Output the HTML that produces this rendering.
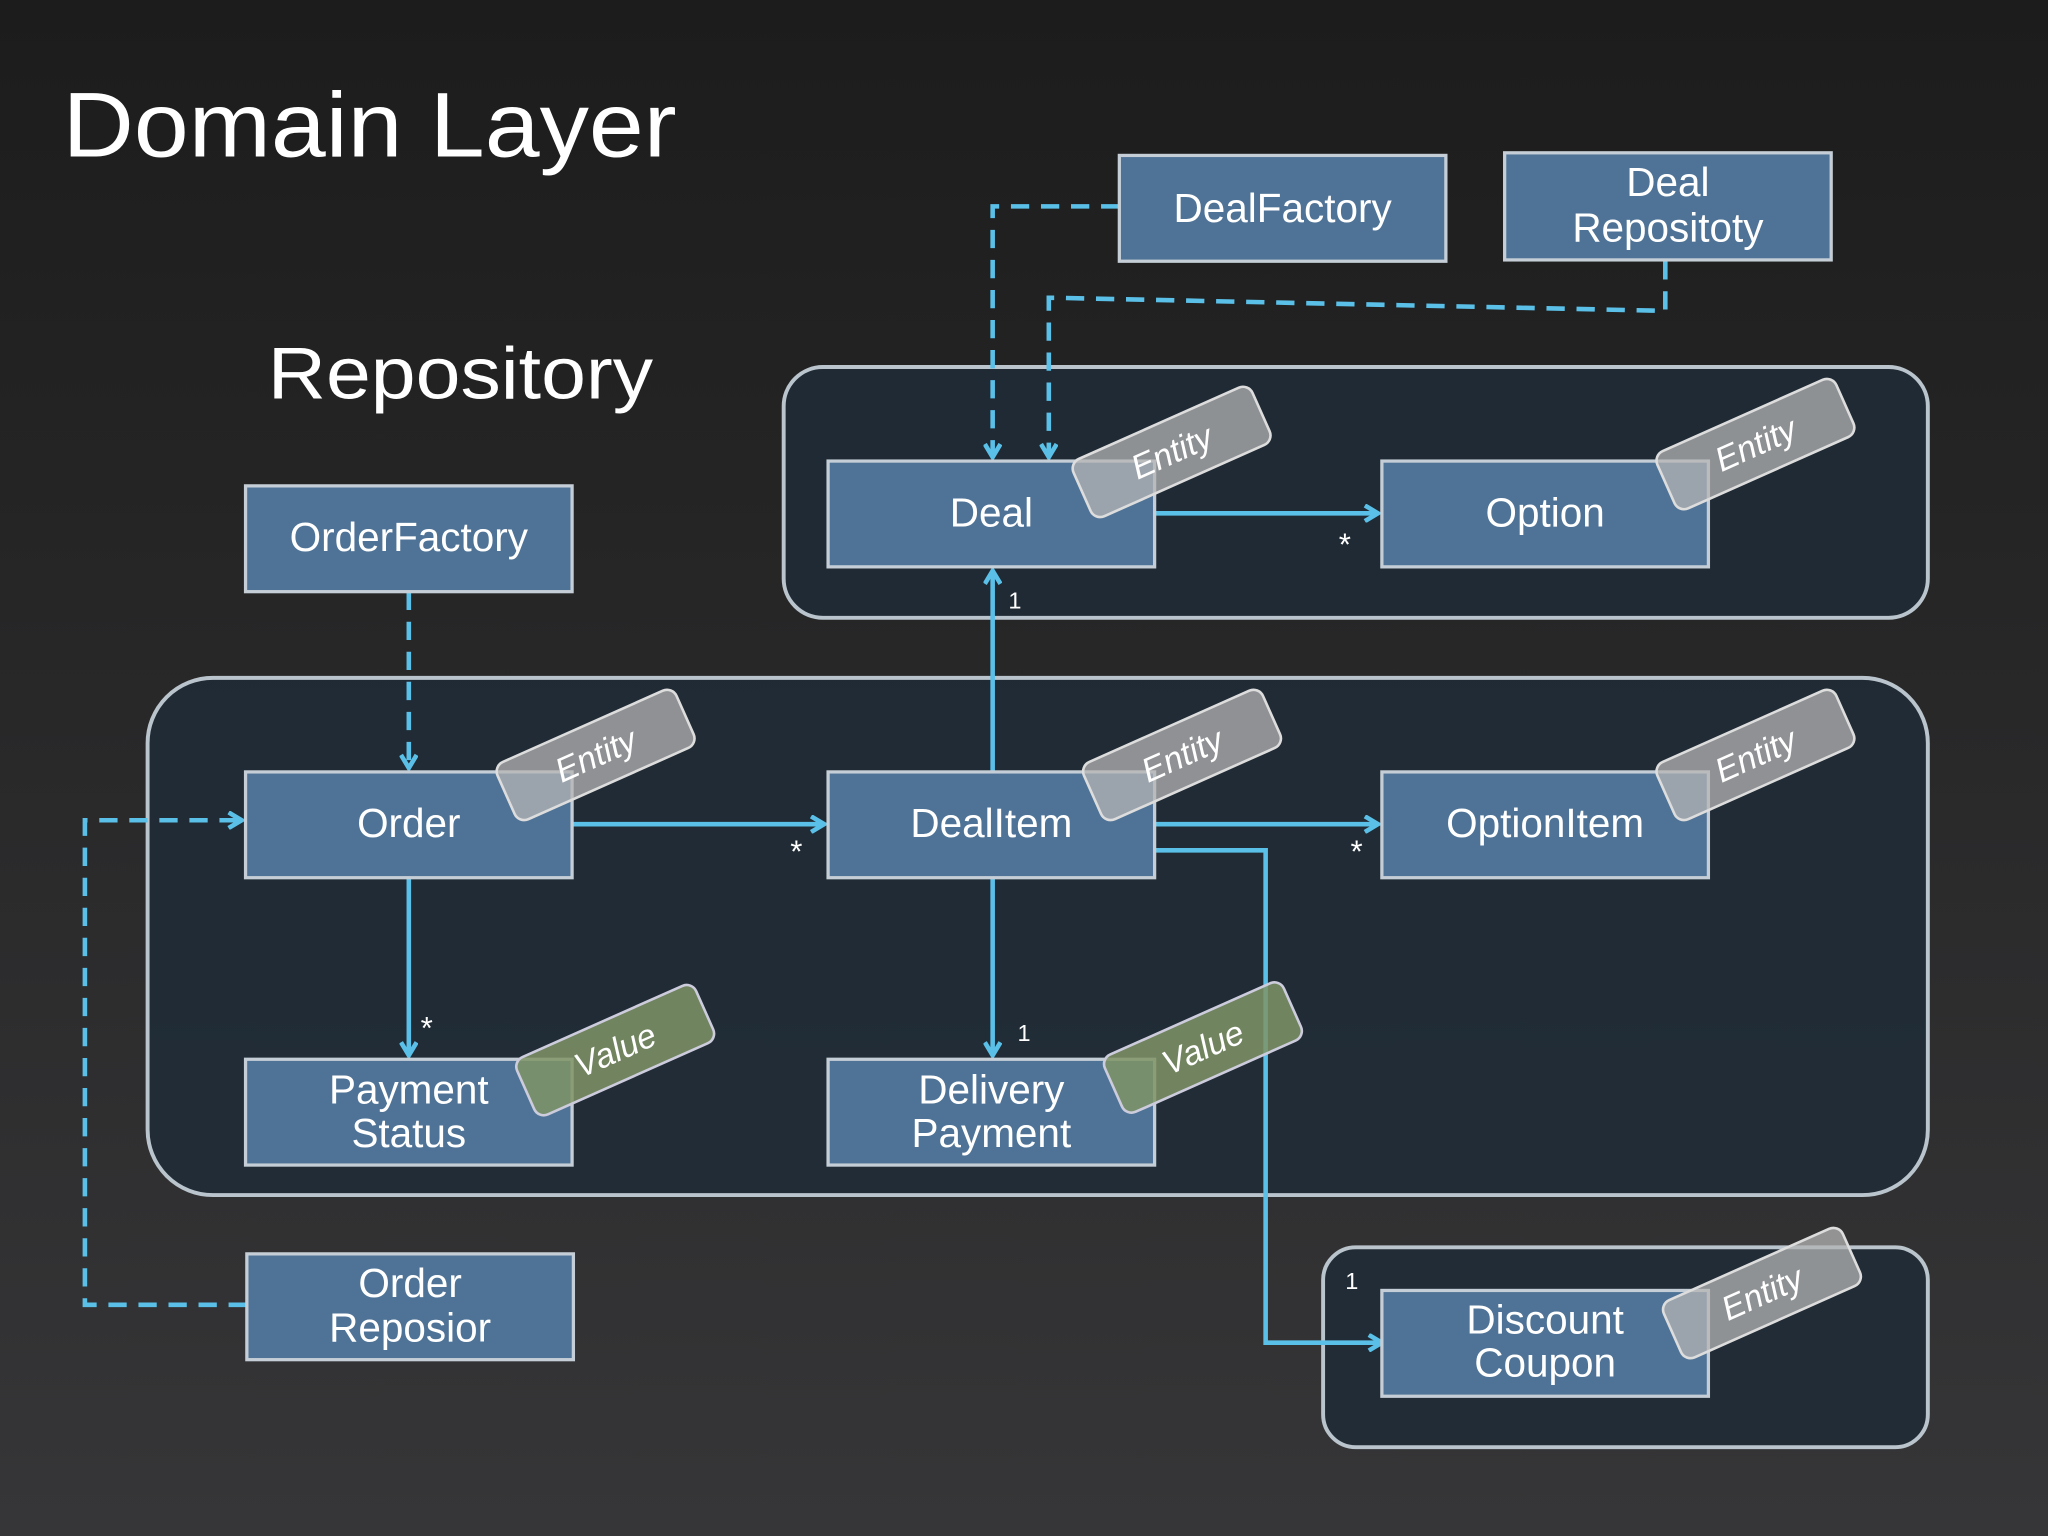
<!DOCTYPE html>
<html><head><meta charset="utf-8"><style>
html,body{margin:0;padding:0;width:2048px;height:1536px;overflow:hidden;background:#222}
svg{display:block}
text{font-family:"Liberation Sans",sans-serif}
</style></head><body>
<svg width="2048" height="1536" viewBox="0 0 1568 1176" xmlns="http://www.w3.org/2000/svg">
<defs>
<linearGradient id="bg" x1="0" y1="0" x2="0" y2="1"><stop offset="0" stop-color="#1c1c1c"/><stop offset="1" stop-color="#363638"/></linearGradient>
<marker id="ar" markerWidth="14" markerHeight="14" refX="11" refY="7" orient="auto" markerUnits="userSpaceOnUse"><path d="M1,1 L11,7 L1,13" fill="none" stroke="#5bc0e8" stroke-width="3.5"/></marker>
</defs>
<rect width="1568" height="1176" fill="url(#bg)"/>
<text x="48" y="120" fill="#fff" font-size="70" textLength="470" lengthAdjust="spacingAndGlyphs">Domain Layer</text>
<text x="205" y="305" fill="#fff" font-size="56" textLength="295" lengthAdjust="spacingAndGlyphs">Repository</text>

<g fill="#1e2b37" fill-opacity="0.85" stroke="#b9c4cc" stroke-width="3">
<rect x="600" y="281" width="876" height="192" rx="30"/>
<rect x="113" y="519" width="1363" height="396" rx="50"/>
<rect x="1013" y="955" width="463" height="153" rx="25"/>
</g>

<g fill="none" stroke="#5bc0e8" stroke-width="3.5">
<g stroke-dasharray="14,9">
<path d="M857,158 H760 V350" marker-end="url(#ar)"/>
<path d="M1275,200 V238 L808,228 H803 V350" marker-end="url(#ar)"/>
<path d="M313,453 V588" marker-end="url(#ar)"/>
<path d="M189,999 H65 V628 H185" marker-end="url(#ar)"/>
</g>
<path d="M884,393 H1055" marker-end="url(#ar)"/>
<path d="M760,591 V437" marker-end="url(#ar)"/>
<path d="M438,631 H631" marker-end="url(#ar)"/>
<path d="M884,631 H1055" marker-end="url(#ar)"/>
<path d="M884,651 H969 V1028 H1058" marker-end="url(#ar)"/>
<path d="M313,672 V808" marker-end="url(#ar)"/>
<path d="M760,672 V808" marker-end="url(#ar)"/>
</g>
<g fill="#fff" font-size="24">
<text x="1025" y="425">*</text><text x="772" y="466" font-size="18">1</text>
<text x="605" y="660">*</text><text x="1034" y="660">*</text>
<text x="1030" y="987" font-size="18">1</text>
<text x="322" y="795">*</text><text x="779" y="797" font-size="18">1</text>
</g>

<g fill="#4f7396" stroke="#c5ced6" stroke-width="2.5">
<rect x="857" y="119" width="250" height="81"/>
<rect x="1152" y="117" width="250" height="82"/>
<rect x="188" y="372" width="250" height="81"/>
<rect x="634" y="353" width="250" height="81"/>
<rect x="1058" y="353" width="250" height="81"/>
<rect x="188" y="591" width="250" height="81"/>
<rect x="634" y="591" width="250" height="81"/>
<rect x="1058" y="591" width="250" height="81"/>
<rect x="188" y="811" width="250" height="81"/>
<rect x="634" y="811" width="250" height="81"/>
<rect x="189" y="960" width="250" height="81"/>
<rect x="1058" y="988" width="250" height="81"/>
</g>
<g fill="#fff" font-size="31" text-anchor="middle">
<text x="982" y="170">DealFactory</text>
<text x="1277" y="150">Deal</text><text x="1277" y="185">Repositoty</text>
<text x="313" y="422">OrderFactory</text>
<text x="759" y="403">Deal</text>
<text x="1183" y="403">Option</text>
<text x="313" y="641">Order</text>
<text x="759" y="641">DealItem</text>
<text x="1183" y="641">OptionItem</text>
<text x="313" y="845">Payment</text><text x="313" y="878">Status</text>
<text x="759" y="845">Delivery</text><text x="759" y="878">Payment</text>
<text x="314" y="993">Order</text><text x="314" y="1027">Reposior</text>
<text x="1183" y="1021">Discount</text><text x="1183" y="1054">Coupon</text>
</g>

<g font-family="Liberation Serif,serif" font-style="italic" font-size="26" text-anchor="middle">
<g transform="translate(897,346) rotate(-24)"><rect x="-75" y="-24" width="150" height="48" rx="8" fill="#b4b4b4" fill-opacity="0.75" stroke="#ddd" stroke-width="2"/><text y="9" fill="#fff">Entity</text></g>
<g transform="translate(1344,340) rotate(-24)"><rect x="-75" y="-24" width="150" height="48" rx="8" fill="#b4b4b4" fill-opacity="0.75" stroke="#ddd" stroke-width="2"/><text y="9" fill="#fff">Entity</text></g>
<g transform="translate(456,578) rotate(-24)"><rect x="-75" y="-24" width="150" height="48" rx="8" fill="#b4b4b4" fill-opacity="0.75" stroke="#ddd" stroke-width="2"/><text y="9" fill="#fff">Entity</text></g>
<g transform="translate(905,578) rotate(-24)"><rect x="-75" y="-24" width="150" height="48" rx="8" fill="#b4b4b4" fill-opacity="0.75" stroke="#ddd" stroke-width="2"/><text y="9" fill="#fff">Entity</text></g>
<g transform="translate(1344,578) rotate(-24)"><rect x="-75" y="-24" width="150" height="48" rx="8" fill="#b4b4b4" fill-opacity="0.75" stroke="#ddd" stroke-width="2"/><text y="9" fill="#fff">Entity</text></g>
<g transform="translate(1349,990) rotate(-24)"><rect x="-75" y="-24" width="150" height="48" rx="8" fill="#b4b4b4" fill-opacity="0.75" stroke="#ddd" stroke-width="2"/><text y="9" fill="#fff">Entity</text></g>
<g transform="translate(471,804) rotate(-24)"><rect x="-75" y="-24" width="150" height="48" rx="8" fill="#7f9466" fill-opacity="0.85" stroke="#ccd" stroke-width="2"/><text y="9" fill="#fff">Value</text></g>
<g transform="translate(921,802) rotate(-24)"><rect x="-75" y="-24" width="150" height="48" rx="8" fill="#7f9466" fill-opacity="0.85" stroke="#ccd" stroke-width="2"/><text y="9" fill="#fff">Value</text></g>
</g>
</svg>
</body></html>
